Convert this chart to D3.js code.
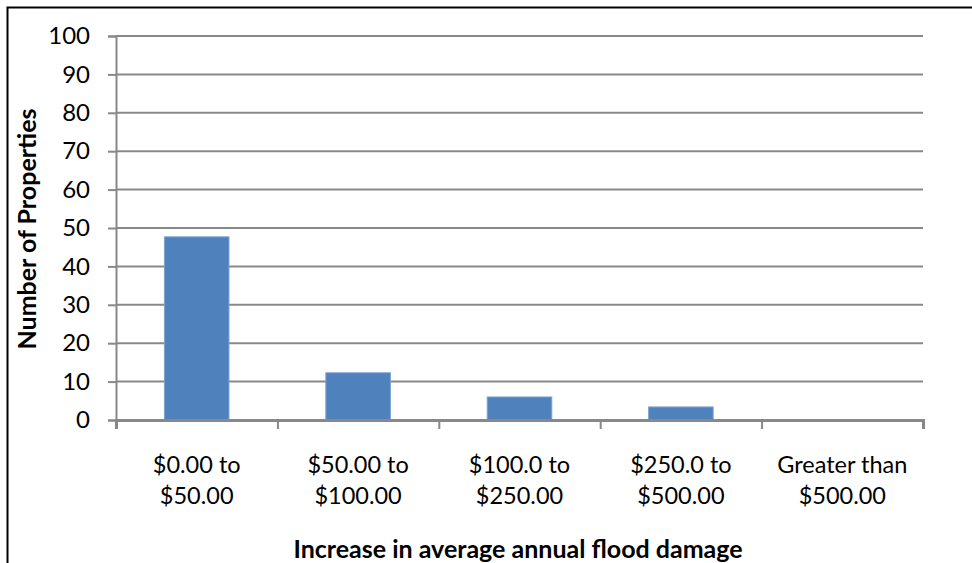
<!DOCTYPE html>
<html>
<head>
<meta charset="utf-8">
<script src="https://cdn.jsdelivr.net/npm/d3@7"></script>
<style>
  html, body { margin: 0; padding: 0; background: #fff; }
  svg { display: block; }
  text { font-family: Lato, "Open Sans", sans-serif; fill: #000; }
</style>
</head>
<body>
<script>
// Properties by increase in average annual flood damage
const categories = [
  ["$0.00 to", "$50.00"],
  ["$50.00 to", "$100.00"],
  ["$100.0 to", "$250.00"],
  ["$250.0 to", "$500.00"],
  ["Greater than", "$500.00"]
];
const values = [47.7, 12.3, 6.0, 3.4, 0];
const yTicks = [0, 10, 20, 30, 40, 50, 60, 70, 80, 90, 100];
const xTitle = "Increase in average annual flood damage";
const yTitle = "Number of Properties";

const W = 972, H = 563;
const margin = { left: 116, right: 49, top: 36, bottom: 143 };

const svg = d3.select("body").append("svg")
  .attr("width", W).attr("height", H);

// chart frame
svg.append("rect")
  .attr("x", 7.5).attr("y", 7.5)
  .attr("width", W + 20).attr("height", H + 20)
  .attr("fill", "none").attr("stroke", "#000").attr("stroke-width", 2);

const x = d3.scaleBand()
  .domain(d3.range(categories.length))
  .range([margin.left, W - margin.right])
  .paddingInner(0.6).paddingOuter(0.3);

const y = d3.scaleLinear().domain([0, 100]).range([H - margin.bottom, margin.top]);

const gridColor = "#888888";

// horizontal gridlines
svg.append("g").selectAll("line")
  .data(yTicks.filter(d => d > 0))
  .join("line")
  .attr("x1", margin.left).attr("x2", W - margin.right)
  .attr("y1", d => y(d)).attr("y2", d => y(d))
  .attr("stroke", gridColor).attr("stroke-width", 2);

// y axis
const yAxis = svg.append("g")
  .attr("transform", `translate(${margin.left},0)`)
  .call(d3.axisLeft(y).tickValues(yTicks).tickSize(8).tickPadding(18));
yAxis.select(".domain").attr("stroke", gridColor).attr("stroke-width", 2);
yAxis.selectAll(".tick line").attr("stroke", gridColor).attr("stroke-width", 2);
yAxis.selectAll(".tick text")
  .style("font-family", "Lato, sans-serif").attr("font-size", 24).attr("fill", "#000");

// bars
svg.append("g").selectAll("rect")
  .data(values)
  .join("rect")
  .attr("x", (d, i) => x(i))
  .attr("width", x.bandwidth())
  .attr("y", d => y(d))
  .attr("height", d => y(0) - y(d))
  .attr("fill", "#4f81bd")
  .attr("stroke", "#7ea3d0").attr("stroke-width", 1);

// x axis line with category boundary ticks
const xEdge = d3.scaleLinear().domain([0, categories.length]).range([margin.left, W - margin.right]);
const xAxis = svg.append("g")
  .attr("transform", `translate(0,${y(0)})`)
  .call(d3.axisBottom(xEdge).ticks(categories.length).tickSize(9).tickFormat(""));
xAxis.select(".domain").attr("stroke", gridColor).attr("stroke-width", 3);
xAxis.selectAll(".tick line").attr("stroke", gridColor).attr("stroke-width", 2);

// category labels (two lines each)
const lab = svg.append("g").selectAll("text")
  .data(categories)
  .join("text")
  .attr("text-anchor", "middle")
  .attr("font-size", 23.5)
  .attr("x", (d, i) => x(i) + x.bandwidth() / 2)
  .attr("y", 473);
lab.selectAll("tspan")
  .data(d => d)
  .join("tspan")
  .attr("x", function () { return d3.select(this.parentNode).attr("x"); })
  .attr("dy", (d, i) => i === 0 ? 0 : 31)
  .text(d => d);

// axis titles
svg.append("text")
  .attr("x", 518).attr("y", 558)
  .attr("text-anchor", "middle")
  .attr("font-size", 25).attr("font-weight", "bold")
  .text(xTitle);

svg.append("text")
  .attr("transform", "translate(36,229) rotate(-90)")
  .attr("text-anchor", "middle")
  .attr("font-size", 25).attr("font-weight", "bold")
  .text(yTitle);
</script>
</body>
</html>
